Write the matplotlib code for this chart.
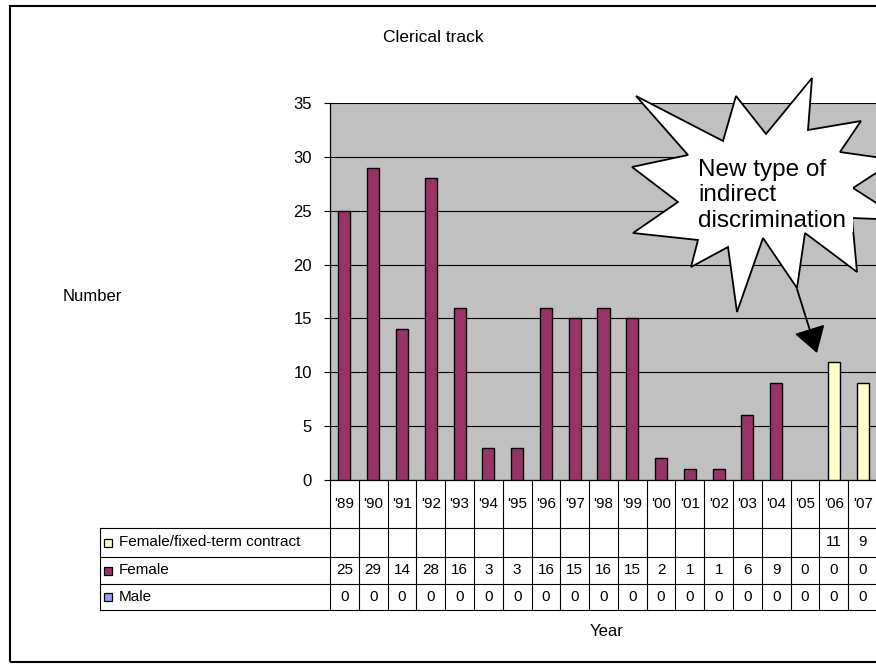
import matplotlib
matplotlib.use("Agg")
import matplotlib.pyplot as plt
import matplotlib.transforms as mtransforms
from matplotlib.patches import Polygon, Rectangle, FancyArrowPatch
from matplotlib import font_manager
import numpy as np

# ---------------- data ----------------
years = ["'89", "'90", "'91", "'92", "'93", "'94", "'95", "'96", "'97", "'98",
         "'99", "'00", "'01", "'02", "'03", "'04", "'05", "'06", "'07"]
female = [25, 29, 14, 28, 16, 3, 3, 16, 15, 16, 15, 2, 1, 1, 6, 9, 0, 0, 0]
fixed_term = [None] * 17 + [11, 9]
male = [0] * 19
series_labels = ["Female/fixed-term contract", "Female", "Male"]
title = "Clerical track"
ylabel = "Number"
xlabel = "Year"
note = "New type of\nindirect\ndiscrimination"
yticks = [0, 5, 10, 15, 20, 25, 30, 35]

# ---------------- style ----------------
W, H = 876, 669
c_fixed = "#FFFFCC"
c_female = "#993366"
c_male = "#9999FF"
c_bg = "#C0C0C0"

names = {f.name for f in font_manager.fontManager.ttflist}
narrow = "Liberation Sans Narrow" if "Liberation Sans Narrow" in names else "Liberation Sans"
plt.rcParams["font.family"] = [narrow, "DejaVu Sans"]

def fx(x):
    return x / W

def fy(y):
    return 1 - y / H

fig = plt.figure(figsize=(W / 100, H / 100), dpi=100)
fig.patch.set_facecolor("white")

ax_left, ax_right, ax_top, ax_bot = 330, 877, 103, 480
ax = fig.add_axes([fx(ax_left), fy(ax_bot), (ax_right - ax_left) / W, (ax_bot - ax_top) / H])
ax.set_facecolor(c_bg)

n = len(years)
x = np.arange(n)
male_v = np.array(male, dtype=float)
female_v = np.array(female, dtype=float)
fixed_v = np.array([v if v is not None else 0 for v in fixed_term], dtype=float)

bw = 0.42
m = male_v > 0
ax.bar(x[m], male_v[m], bw, color=c_male, edgecolor="black", linewidth=1.0, zorder=3)
m = female_v > 0
ax.bar(x[m], female_v[m], bw, bottom=male_v[m], color=c_female, edgecolor="black",
       linewidth=1.0, zorder=3)
m = fixed_v > 0
ax.bar(x[m], fixed_v[m], bw, bottom=(male_v + female_v)[m], color=c_fixed,
       edgecolor="black", linewidth=1.0, zorder=3)

ax.set_xlim(-0.5, n - 0.5)
ax.set_ylim(0, 35)
ax.set_yticks(yticks)
ax.set_yticklabels([str(t) for t in yticks], fontfamily="Liberation Sans", fontsize=12)
ax.set_xticks([])
ax.yaxis.grid(True, color="black", linewidth=0.8)
ax.set_axisbelow(True)
ax.tick_params(axis="y", direction="out", length=4, width=0.8, pad=9)
for s in ["top", "right"]:
    ax.spines[s].set_visible(False)
ax.spines["left"].set_linewidth(0.9)
ax.spines["bottom"].set_linewidth(0.9)

# ---------------- data table ----------------
blend = mtransforms.blended_transform_factory(ax.transData, ax.transAxes)
axh = ax_bot - ax_top
axw = ax_right - ax_left

def ay(ypix):
    return (ax_bot - ypix) / axh

def axx(xpix):
    return (xpix - ax_left) / axw

rows = [480, 528, 557, 584, 610]
tbl_left = 100
lw_t = 0.8
for i in range(n + 1):
    ax.plot([i - 0.5, i - 0.5], [0, ay(rows[-1])], color="black", lw=lw_t,
            transform=blend, clip_on=False)
for r in rows[1:]:
    ax.plot([axx(tbl_left), 1.02], [ay(r), ay(r)], color="black", lw=lw_t,
            transform=ax.transAxes, clip_on=False)
ax.plot([axx(tbl_left), axx(tbl_left)], [ay(rows[1]), ay(rows[-1])], color="black",
        lw=lw_t, transform=ax.transAxes, clip_on=False)

tfs = 11
for i, yr in enumerate(years):
    ax.text(i, ay((rows[0] + rows[1]) / 2), yr, ha="center", va="center",
            fontsize=tfs, transform=blend, clip_on=False)

row_values = [fixed_term, female, male]
row_colors = [c_fixed, c_female, c_male]
for k in range(3):
    yc = ay((rows[k + 1] + rows[k + 2]) / 2)
    ax.plot([axx(108)], [yc], marker="s", ms=5.5, mfc=row_colors[k], mec="black",
            mew=0.9, transform=ax.transAxes, clip_on=False)
    ax.text(axx(119), yc, series_labels[k], ha="left", va="center", fontsize=tfs,
            transform=ax.transAxes, clip_on=False)
    for i, v in enumerate(row_values[k]):
        if v is None:
            continue
        ax.text(i, yc, str(v), ha="center", va="center", fontsize=tfs,
                transform=blend, clip_on=False)

# ---------------- labels ----------------
fig.text(fx(433), fy(37), title, ha="center", va="center", fontsize=12.5)
fig.text(fx(92), fy(297), ylabel, ha="center", va="center", fontsize=12)
fig.text(fx(607), fy(632), xlabel, ha="center", va="center", fontsize=12)

# outer frame
fig.add_artist(Rectangle((fx(10), fy(662)), fx(900 - 10), (662 - 6) / H, fill=False,
                         edgecolor="black", linewidth=1.5, transform=fig.transFigure))

# ---------------- starburst callout ----------------
star = [(636, 96), (723, 141), (736, 96), (766, 134), (812, 78), (808, 130),
        (861, 121), (840, 152), (896, 160), (853, 188), (903, 220), (852, 218),
        (857, 272), (805, 233), (797, 288), (763, 238), (737, 312), (728, 247),
        (691, 267), (698, 240), (633, 233), (678, 202), (632, 167), (688, 155)]
fig.add_artist(Polygon([(fx(a), fy(b)) for a, b in star], closed=True, facecolor="white",
                       edgecolor="black", linewidth=1.3, transform=fig.transFigure,
                       zorder=5))
fig.add_artist(Rectangle((fx(697), fy(232)), fx(853 - 697), (232 - 160) / H,
                         facecolor="white", edgecolor="none", transform=fig.transFigure,
                         zorder=6))
fig.text(fx(698), fy(159), note, ha="left", va="top", fontsize=17.5,
         fontfamily="Liberation Sans", linespacing=1.2, zorder=7)

fig.add_artist(FancyArrowPatch((fx(797), fy(289)), (fx(817), fy(353)),
                               transform=fig.transFigure,
                               arrowstyle="-|>,head_length=0.8,head_width=0.5",
                               mutation_scale=20, color="black", linewidth=1.3,
                               shrinkA=0, shrinkB=0, zorder=8))

fig.savefig("out.png", dpi=100)
